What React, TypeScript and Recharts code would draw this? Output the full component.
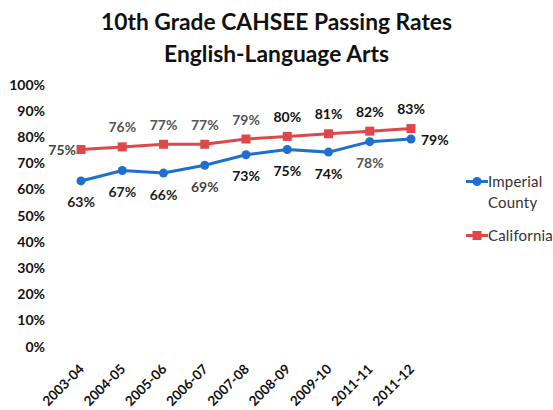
import React from 'react';
import { LineChart, Line, XAxis, YAxis, LabelList } from 'recharts';

const years = ['2003-04', '2004-05', '2005-06', '2006-07', '2007-08', '2008-09', '2009-10', '2011-11', '2011-12'];
const imperial = [63, 67, 66, 69, 73, 75, 74, 78, 79];
const california = [75, 76, 77, 77, 79, 80, 81, 82, 83];
const yTicks = [0, 10, 20, 30, 40, 50, 60, 70, 80, 90, 100];
const seriesNames = ['Imperial County', 'California'];

const data = years.map((year, i) => ({ year, imperial: imperial[i], california: california[i] }));

const FONT = 'Lato, "Open Sans", sans-serif';
const BLUE = '#1f6fd0';
const RED = '#e0474a';
const impTone = ['#222', '#222', '#222', '#444', '#111', '#111', '#111', '#555', '#111'];
const calTone = ['#444', '#555', '#555', '#555', '#555', '#111', '#111', '#111', '#111'];

const RoundDot = (props: any) => {
  const { cx, cy } = props;
  if (cx == null || cy == null) return null;
  return <circle cx={cx} cy={cy} r={4.5} fill={BLUE} />;
};

const SquareDot = (props: any) => {
  const { cx, cy } = props;
  if (cx == null || cy == null) return null;
  return <rect x={cx - 4.5} y={cy - 4.5} width={9} height={9} fill={RED} />;
};

const impLabel = (props: any) => {
  const { x, y, value, index } = props;
  const last = index === imperial.length - 1;
  return (
    <text
      x={last ? x + 10 : x}
      y={last ? y : y + 21}
      textAnchor={last ? 'start' : 'middle'}
      dominantBaseline="central"
      fontFamily={FONT}
      fontWeight={700}
      fontSize={14}
      fill={impTone[index] || '#222'}
    >
      {value}%
    </text>
  );
};

const calLabel = (props: any) => {
  const { x, y, value, index } = props;
  const first = index === 0;
  return (
    <text
      x={first ? x - 5 : x}
      y={first ? y : y - 20}
      textAnchor={first ? 'end' : 'middle'}
      dominantBaseline="central"
      fontFamily={FONT}
      fontWeight={700}
      fontSize={14}
      fill={calTone[index] || '#222'}
    >
      {value}%
    </text>
  );
};

const XTick = (props: any) => {
  const { x, y, payload } = props;
  const ax = x + 4;
  const ay = y + 16;
  return (
    <text
      x={ax}
      y={ay}
      transform={`rotate(-45 ${ax} ${ay})`}
      textAnchor="end"
      fontFamily={FONT}
      fontWeight={700}
      fontSize={13.5}
      fill="#111"
    >
      {payload.value}
    </text>
  );
};

const YTick = (props: any) => {
  const { x, y, payload } = props;
  return (
    <text x={x} y={y} textAnchor="end" dominantBaseline="central" fontFamily={FONT} fontWeight={700} fontSize={14} fill="#111">
      {payload.value}%
    </text>
  );
};

export default function App() {
  return (
    <div style={{ position: 'absolute', left: 0, top: 0, width: 553, height: 410, background: '#fff', fontFamily: FONT }}>
      <div
        style={{
          position: 'absolute',
          left: 0,
          top: 5,
          width: 553,
          textAlign: 'center',
          fontFamily: FONT,
          fontWeight: 700,
          fontSize: 22.8,
          lineHeight: '32px',
          color: '#111',
        }}
      >
        10th Grade CAHSEE Passing Rates
        <br />
        English-Language Arts
      </div>
      <LineChart width={553} height={410} data={data} margin={{ top: 84, right: 142, bottom: 4, left: 21 }}>
        <XAxis dataKey="year" axisLine={false} tickLine={false} height={60} interval={0} tick={<XTick />} />
        <YAxis
          domain={[0, 100]}
          ticks={yTicks}
          axisLine={false}
          tickLine={false}
          width={60}
          tickMargin={30}
          interval={0}
          tick={<YTick />}
        />
        <Line
          type="linear"
          dataKey="imperial"
          name={seriesNames[0]}
          stroke={BLUE}
          strokeWidth={3}
          dot={<RoundDot />}
          isAnimationActive={false}
        >
          <LabelList dataKey="imperial" content={impLabel} />
        </Line>
        <Line
          type="linear"
          dataKey="california"
          name={seriesNames[1]}
          stroke={RED}
          strokeWidth={3}
          dot={<SquareDot />}
          isAnimationActive={false}
        >
          <LabelList dataKey="california" content={calLabel} />
        </Line>
      </LineChart>
      <div style={{ position: 'absolute', left: 466, top: 171, fontFamily: FONT, fontSize: 15, color: '#333', lineHeight: '21px', letterSpacing: 0.2 }}>
        <div style={{ display: 'flex', alignItems: 'flex-start' }}>
          <svg width={22} height={21} style={{ flex: 'none' }}>
            <line x1={0} y1={10.5} x2={22} y2={10.5} stroke={BLUE} strokeWidth={3} />
            <circle cx={11} cy={10.5} r={4.5} fill={BLUE} />
          </svg>
          <div style={{ width: 62 }}>{seriesNames[0]}</div>
        </div>
        <div style={{ display: 'flex', alignItems: 'flex-start', marginTop: 12 }}>
          <svg width={22} height={21} style={{ flex: 'none' }}>
            <line x1={0} y1={10.5} x2={22} y2={10.5} stroke={RED} strokeWidth={3} />
            <rect x={6.5} y={6} width={9} height={9} fill={RED} />
          </svg>
          <div>{seriesNames[1]}</div>
        </div>
      </div>
    </div>
  );
}
